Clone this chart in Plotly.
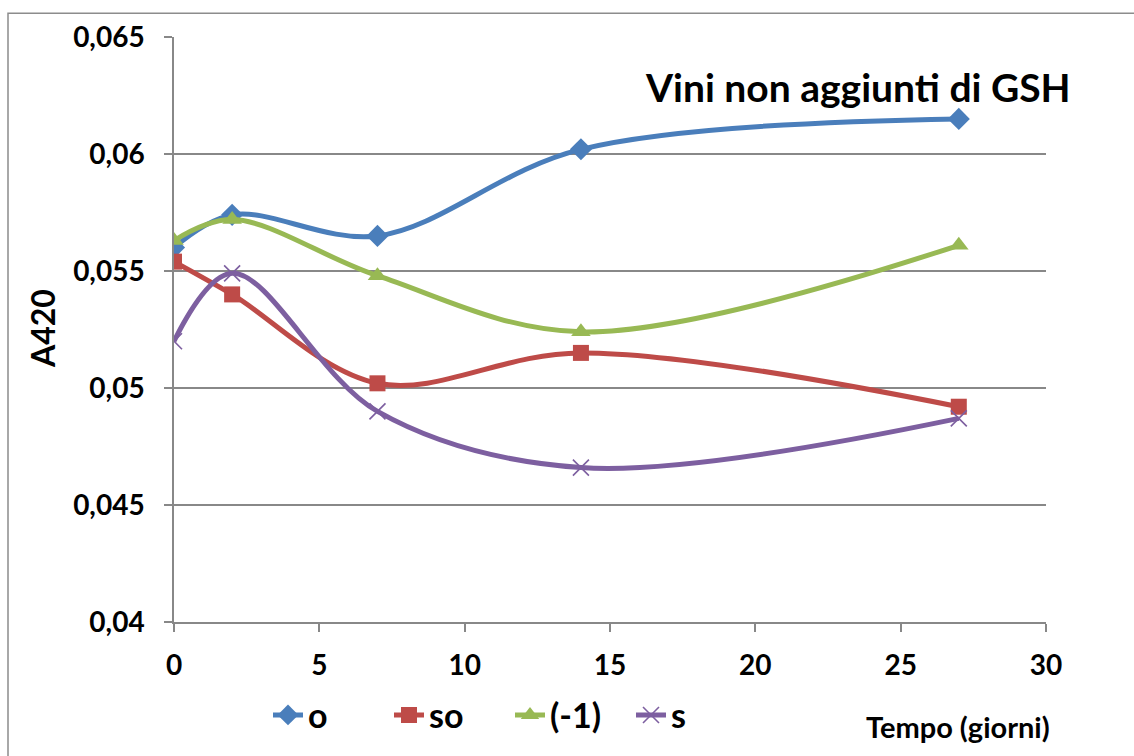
import plotly.graph_objects as go

# Giorni di campionamento
giorni = [0, 2, 7, 14, 27]

# Assorbanza a 420 nm per ciascun vino
a420_o = [0.0560, 0.0574, 0.0565, 0.0602, 0.0615]
a420_so = [0.0554, 0.0540, 0.0502, 0.0515, 0.0492]
a420_m1 = [0.0563, 0.0572, 0.0548, 0.0524, 0.0561]
a420_s = [0.0520, 0.0549, 0.0490, 0.0466, 0.0487]

y_ticks = [0.04, 0.045, 0.05, 0.055, 0.06, 0.065]
y_tick_text = ["0,04", "0,045", "0,05", "0,055", "0,06", "0,065"]
x_ticks = [0, 5, 10, 15, 20, 25, 30]

series = [
    ("o", a420_o, "#4a7ebb", dict(symbol="diamond", size=17)),
    ("so", a420_so, "#be4b48", dict(symbol="square", size=16)),
    ("(-1)", a420_m1, "#98b954", dict(symbol="triangle-up", size=17)),
    ("s", a420_s, "#7d5fa0", dict(symbol="x-thin", size=16,
                                  line=dict(width=1.6, color="#7d5fa0"))),
]

fig = go.Figure()
for name, vals, color, marker in series:
    fig.add_trace(go.Scatter(
        x=giorni, y=vals, name=name, mode="lines+markers",
        line=dict(color=color, width=5, shape="spline", smoothing=1),
        marker=dict(color=color, **marker),
    ))

W, H = 1134, 756
ml, mr, mt, mb = 174, 88, 37, 130
pw, ph = W - ml - mr, H - mt - mb


def px_x(p):
    return (p - ml) / pw


def px_y(p):
    return (H - mb - p) / ph


grid = "#888888"
bold = dict(family="Lato", color="black", weight="bold")
fig.update_layout(
    width=W, height=H,
    margin=dict(l=ml, r=mr, t=mt, b=mb),
    paper_bgcolor="white", plot_bgcolor="white",
    showlegend=True,
    legend=dict(
        orientation="h", x=px_x(268), y=px_y(720), xanchor="left", yanchor="middle",
        font=dict(size=34, **bold),
        itemwidth=30, tracegroupgap=0, bgcolor="rgba(0,0,0,0)",
        entrywidth=76, entrywidthmode="pixels",
    ),
    xaxis=dict(
        range=[0, 30], tickvals=x_ticks, showgrid=False, zeroline=False,
        showline=True, linecolor=grid, linewidth=1.5,
        ticks="outside", ticklen=8, tickcolor=grid, tickwidth=1.5,
        ticklabelstandoff=10,
        tickfont=dict(size=28, **bold),
    ),
    yaxis=dict(
        range=[0.04, 0.065], tickvals=y_ticks, ticktext=y_tick_text,
        showgrid=True, gridcolor=grid, gridwidth=1.5, zeroline=False,
        showline=True, linecolor=grid, linewidth=1.5,
        ticks="outside", ticklen=8, tickcolor=grid, tickwidth=1.5,
        ticklabelstandoff=14,
        tickfont=dict(size=28, **bold),
    ),
    shapes=[dict(
        type="rect", xref="paper", yref="paper",
        x0=px_x(8), x1=px_x(1200), y0=px_y(800), y1=px_y(13),
        line=dict(color="#8c8c8c", width=1.5), fillcolor="rgba(0,0,0,0)",
        layer="below",
    )],
    annotations=[
        dict(text="Vini non aggiunti di GSH", xref="paper", yref="paper",
             x=px_x(858), y=px_y(87), xanchor="center", yanchor="middle",
             showarrow=False, font=dict(size=39, **bold)),
        dict(text="A420", xref="paper", yref="paper",
             x=px_x(42), y=px_y(331), xanchor="center", yanchor="middle",
             textangle=-90, showarrow=False, font=dict(size=32, **bold)),
        dict(text="Tempo (giorni)", xref="paper", yref="paper",
             x=px_x(958), y=px_y(731), xanchor="center", yanchor="middle",
             showarrow=False, font=dict(size=29, **bold)),
    ],
)

fig.write_html("out.html")
